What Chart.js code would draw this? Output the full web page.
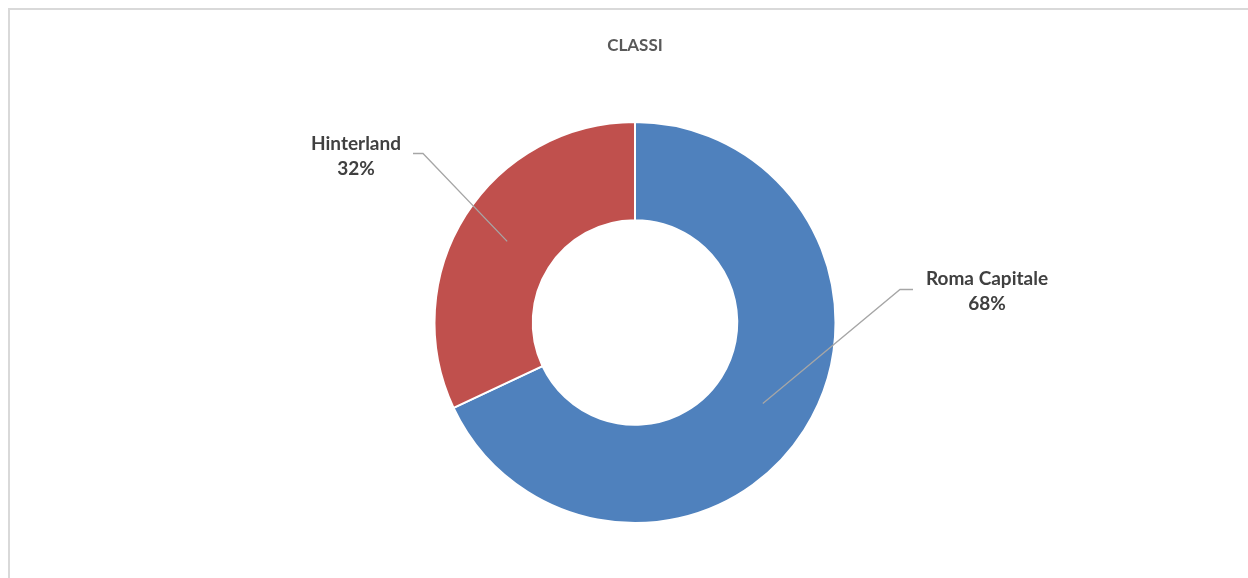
<!DOCTYPE html>
<html>
<head>
<meta charset="utf-8">
<script src="https://cdn.jsdelivr.net/npm/chart.js@4/dist/chart.umd.min.js"></script>
<style>
    html, body { margin: 0; padding: 0; background: #ffffff; overflow: hidden; }
    #frame {
        position: absolute; left: 8px; top: 8px; width: 1300px; height: 620px;
        border-left: 2px solid #d9d9d9; border-top: 2px solid #d9d9d9;
    }
    #wrap { position: absolute; left: 0; top: 0; width: 1248px; height: 578px; }
</style>
</head>
<body>
<div id="frame"></div>
<div id="wrap"><canvas id="chart"></canvas></div>
<script>
// Dati del grafico
const titolo = 'CLASSI';
const categorie = ['Roma Capitale', 'Hinterland'];
const valori = [68, 32];
const colori = ['#4F81BD', '#C0504D'];

// offset etichette rispetto al centro della ciambella (gomito della linea, centro testo)
const posEtichette = [
    { elbow: [265, -33], end: [278, -33], text: [352, -31] },
    { elbow: [-212, -169], end: [-222, -169], text: [-279, -166] }
];

const FONT = "Lato, 'Liberation Sans', sans-serif";

const etichettePlugin = {
    id: 'etichette',
    afterDatasetsDraw(chart) {
        const ctx = chart.ctx;
        const meta = chart.getDatasetMeta(0);
        const tot = valori.reduce((a, b) => a + b, 0);

        // titolo
        ctx.save();
        ctx.fillStyle = '#595959';
        ctx.font = 'bold 17px ' + FONT;
        ctx.textAlign = 'center';
        ctx.textBaseline = 'middle';
        ctx.fillText(titolo, (chart.chartArea.left + chart.chartArea.right) / 2, 46);
        ctx.restore();

        meta.data.forEach((arc, i) => {
            const p = arc.getProps(['x', 'y', 'startAngle', 'endAngle', 'innerRadius', 'outerRadius'], true);
            const mid = (p.startAngle + p.endAngle) / 2;
            const r = (p.innerRadius + p.outerRadius) / 2;
            const sx = p.x + Math.cos(mid) * r;
            const sy = p.y + Math.sin(mid) * r;
            const pos = posEtichette[i];

            ctx.save();
            ctx.strokeStyle = '#a6a6a6';
            ctx.lineWidth = 1.3;
            ctx.beginPath();
            ctx.moveTo(sx, sy);
            ctx.lineTo(p.x + pos.elbow[0], p.y + pos.elbow[1]);
            ctx.lineTo(p.x + pos.end[0], p.y + pos.end[1]);
            ctx.stroke();

            const pct = Math.round(valori[i] / tot * 100) + '%';
            ctx.fillStyle = '#404040';
            ctx.font = 'bold 19px ' + FONT;
            ctx.textAlign = 'center';
            ctx.textBaseline = 'middle';
            const tx = p.x + pos.text[0];
            const ty = p.y + pos.text[1];
            ctx.fillText(categorie[i], tx, ty - 12.5);
            ctx.fillText(pct, tx, ty + 12.5);
            ctx.restore();
        });
    }
};

new Chart(document.getElementById('chart'), {
    type: 'doughnut',
    data: {
        labels: categorie,
        datasets: [{
            data: valori,
            backgroundColor: colori,
            borderColor: '#ffffff',
            borderWidth: 2,
            hoverOffset: 0
        }]
    },
    options: {
        responsive: true,
        maintainAspectRatio: false,
        animation: false,
        cutout: '51%',
        layout: { padding: { top: 121, bottom: 54, left: 300, right: 278 } },
        plugins: {
            legend: { display: false },
            tooltip: { enabled: false },
            title: { display: false }
        }
    },
    plugins: [etichettePlugin]
});
</script>
</body>
</html>
